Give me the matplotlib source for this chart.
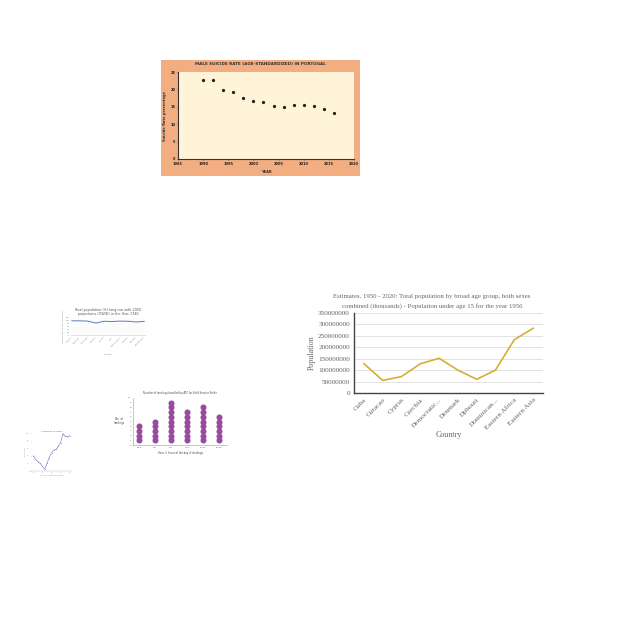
import matplotlib
matplotlib.use("Agg")
import matplotlib.pyplot as plt

# ---------------- data ----------------
# Chart A: male suicide rate in Portugal
suicide_years = [1990, 1992, 1994, 1996, 1998, 2000, 2002, 2004, 2006, 2008, 2010, 2012, 2014, 2016]
suicide_rates = [22.7, 22.8, 19.7, 19.3, 17.5, 16.7, 16.5, 15.2, 15.0, 15.4, 15.4, 15.1, 14.5, 13.1]
suicide_xticks = [1985, 1990, 1995, 2000, 2005, 2010, 2015, 2020]
suicide_yticks = [0, 5, 10, 15, 20, 25]

# Chart B: population under age 15, 1956
countries = ["Cuba", "Curacao", "Cyprus", "Czechia", "Democratic...", "Denmark",
             "Djibouti", "Dominican...", "Eastern Africa", "Eastern Asia"]
population = [128e6, 55e6, 72e6, 128e6, 152e6, 100e6, 60e6, 100e6, 233e6, 283e6]
pop_yticks = [0, 50000000, 100000000, 150000000, 200000000, 250000000, 300000000, 350000000]

# Chart C: real population long run
realpop_labels = ["Austria", "Belgium", "Denmark", "Finland", "France", "Italy",
                  "Netherlands", "Norway", "Sweden", "Switzerland"]
realpop_values = [100, 100, 98, 84, 97, 95, 98, 97, 92, 96]

# Chart D: dot chart
dot_labels = ["00-3", "3-6", "6-9", "9-12", "12-15", "15-18"]
dot_counts = [4, 5, 9, 7, 8, 6]

# Chart E: tiny line chart
tiny_x = [0, 1, 2, 3, 4, 5, 6, 7, 8, 9, 10, 11, 12, 13, 14, 15, 16]
tiny_y = [40, 30, 25, 20, 12, 5, 20, 35, 48, 55, 57, 65, 75, 98, 92, 90, 93]

# ---------------- figure ----------------
W = H = 640
fig = plt.figure(figsize=(6.4, 6.4), dpi=100)
fig.patch.set_facecolor("white")


def rect(x0, y0, x1, y1):
    return [x0 / W, 1 - y1 / H, (x1 - x0) / W, (y1 - y0) / H]


# ===== Chart A =====
bgA = fig.add_axes(rect(161, 60, 360, 176), zorder=0)
bgA.set_facecolor("#F2AD80")
bgA.set_xticks([])
bgA.set_yticks([])
for sp in bgA.spines.values():
    sp.set_visible(False)

axA = fig.add_axes(rect(178, 72, 354, 159), zorder=1)
axA.set_facecolor("#FFF4D8")
axA.scatter(suicide_years, suicide_rates, s=1.8, color="#222222", zorder=3)
axA.set_xlim(1985, 2020)
axA.set_ylim(0, 25)
axA.set_xticks(suicide_xticks)
axA.set_yticks(suicide_yticks)
for sp in ["top", "right"]:
    axA.spines[sp].set_visible(False)
for sp in ["left", "bottom"]:
    axA.spines[sp].set_color("#333333")
    axA.spines[sp].set_linewidth(0.8)
axA.tick_params(length=1, width=0.4, pad=1, labelsize=2.6, colors="#222222")
for lab in axA.get_xticklabels() + axA.get_yticklabels():
    lab.set_fontweight("bold")
fig.text(260 / W, 1 - 64 / H, "MALE SUICIDE RATE (AGE-STANDARDIZED) IN PORTUGAL",
         ha="center", va="center", fontsize=3, fontweight="heavy", color="#333333", zorder=5)
fig.text(266 / W, 1 - 172 / H, "YEAR", ha="center", va="center", fontsize=2.6,
         fontweight="bold", color="#333333", zorder=5)
fig.text(165 / W, 1 - 116 / H, "Suicide Rate percentage", ha="center", va="center",
         rotation=90, fontsize=2.6, fontweight="bold", color="#333333", zorder=5)

# ===== Chart B =====
serif = ["Liberation Serif", "DejaVu Serif"]
gray = "#666666"
axB = fig.add_axes(rect(354, 313, 543, 393))
axB.plot(range(len(countries)), population, color="#D6AE35", lw=1.2, zorder=3)
axB.set_xlim(-0.53, len(countries) - 1 + 0.53)
axB.set_ylim(0, 350000000)
axB.set_yticks(pop_yticks)
axB.set_yticklabels([str(v) for v in pop_yticks], family=serif, fontsize=5.2, color=gray)
axB.set_xticks(range(len(countries)))
axB.set_xticklabels(countries, rotation=45, ha="right", rotation_mode="anchor",
                    family=serif, fontsize=5.2, color=gray)
axB.grid(axis="y", color="#dddddd", lw=0.6)
axB.set_axisbelow(True)
for sp in ["top", "right"]:
    axB.spines[sp].set_visible(False)
for sp in ["left", "bottom"]:
    axB.spines[sp].set_color("#444444")
    axB.spines[sp].set_linewidth(1.0)
axB.tick_params(length=0, pad=3)
axB.set_xlabel("Country", family=serif, fontsize=5.8, color=gray, labelpad=0)
axB.set_ylabel("Population", family=serif, fontsize=5.8, color=gray, labelpad=2)
fig.text(432 / W, 1 - 301.5 / H,
         "Estimates, 1950 - 2020: Total population by broad age group, both sexes\n"
         "combined (thousands) - Population under age 15 for the year 1956",
         ha="center", va="center", family=serif, fontsize=4.9, color=gray, linespacing=1.75)

# ===== Chart C =====
axC = fig.add_axes(rect(71, 318, 145, 335))
axC.plot(range(len(realpop_values)), realpop_values, color="#5B7DB8", lw=0.7)
axC.set_xlim(-0.1, len(realpop_values) - 0.9)
axC.set_ylim(0, 120)
axC.set_yticks([0, 20, 40, 60, 80, 100, 120])
axC.set_xticks(range(len(realpop_labels)))
axC.set_xticklabels(realpop_labels, rotation=45, ha="right", rotation_mode="anchor")
axC.tick_params(length=0, pad=1, labelsize=1.6, colors="#888888")
axC.grid(axis="y", color="#eeeeee", lw=0.3)
for sp in ["top", "right", "left"]:
    axC.spines[sp].set_visible(False)
axC.spines["bottom"].set_color("#cccccc")
axC.spines["bottom"].set_linewidth(0.4)
axC.set_title("Real population (%) long run with 2050\nprojections (OWID) in the Year 1740",
              fontsize=2.4, color="#555555", pad=2)
axC.set_ylabel("Percentage of Real Population", fontsize=1.6, color="#888888", labelpad=1)
axC.set_xlabel("Country", fontsize=1.6, color="#888888", labelpad=5)

# ===== Chart D =====
axD = fig.add_axes(rect(133, 398, 227, 445))
for i, n in enumerate(dot_counts):
    axD.scatter([i] * n, list(range(1, n + 1)), s=11, color="#9A4A9E", zorder=3)
axD.set_xlim(-0.375, len(dot_counts) - 1 + 0.5)
axD.set_ylim(0.4, 10)
axD.set_yticks(range(0, 11))
axD.set_xticks(range(len(dot_labels)))
axD.set_xticklabels(dot_labels)
axD.tick_params(length=0, pad=1.5, labelsize=1.6, colors="#555555")
for sp in ["top", "right"]:
    axD.spines[sp].set_visible(False)
for sp in ["left", "bottom"]:
    axD.spines[sp].set_color("#999999")
    axD.spines[sp].set_linewidth(0.4)
axD.set_title("Number of landings handled by ATC for Field Service Strike",
              fontsize=1.8, color="#444444", pad=3)
axD.set_xlabel("Hour in hours of the day of landings", fontsize=1.8, color="#444444", labelpad=2)
fig.text(119 / W, 1 - 421 / H, "No. of\nlandings", ha="center", va="center",
         fontsize=1.9, color="#444444")

# ===== Chart E =====
axE = fig.add_axes(rect(31, 433, 72, 471))
axE.plot(tiny_x, tiny_y, color="#7B8FD0", lw=0.5, marker="o", ms=0.6,
         mfc="#7B5FBF", mec="none")
axE.set_xlim(-1, 17)
axE.set_ylim(0, 100)
axE.tick_params(length=0.5, width=0.2, pad=0.5, labelsize=1.3, colors="#888888")
axE.set_xticks([0, 4, 8, 12, 16])
axE.set_yticks([0, 20, 40, 60, 80, 100])
for sp in axE.spines.values():
    sp.set_visible(False)
axE.spines["bottom"].set_visible(True)
axE.spines["bottom"].set_color("#bbbbbb")
axE.spines["bottom"].set_linewidth(0.3)
axE.set_title("Activation of HER2", fontsize=1.6, color="#555555", pad=1)
axE.set_xlabel("Time since activation (min)", fontsize=1.3, color="#888888", labelpad=0.5)
axE.set_ylabel("Activity (%)", fontsize=1.3, color="#888888", labelpad=0.5)

fig.savefig("out.png", dpi=100, facecolor="white")
